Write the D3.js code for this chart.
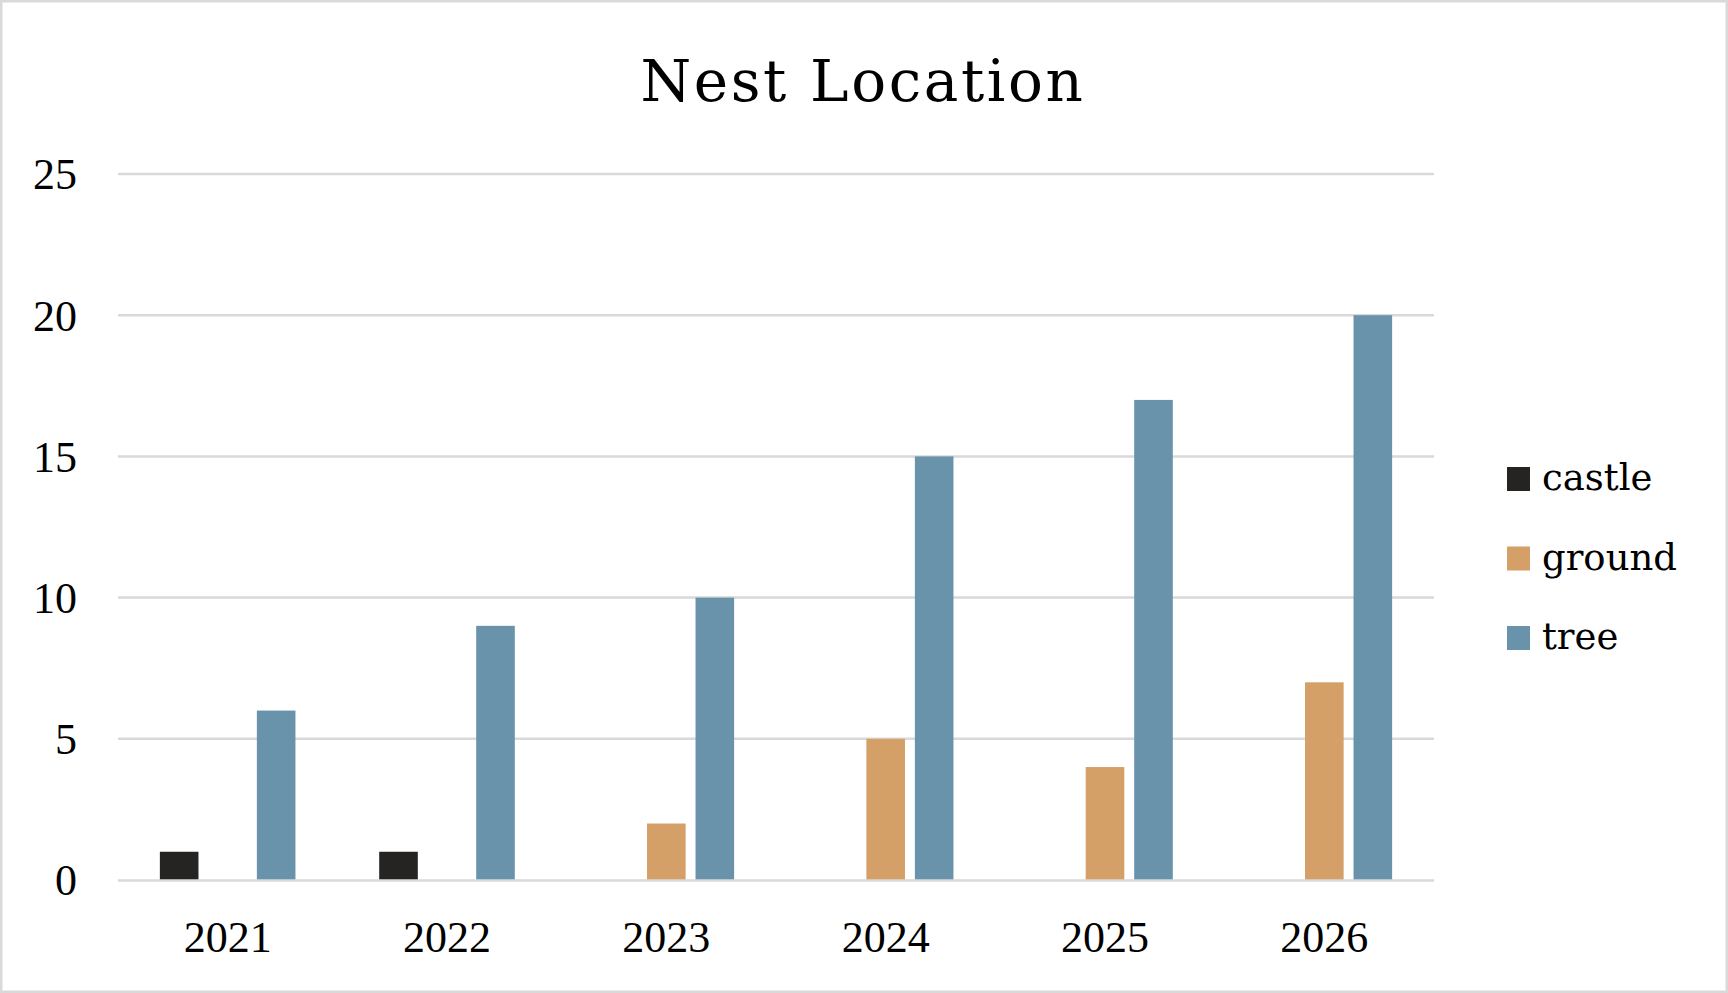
<!DOCTYPE html>
<html>
<head>
<meta charset="utf-8">
<script src="https://cdn.jsdelivr.net/npm/d3@7"></script>
<style>
  body { margin: 0; background: white; }
</style>
</head>
<body>
<div class="middle"></div>
<script>
const years = ['2021', '2022', '2023', '2024', '2025', '2026']
const seriesNames = ['castle', 'ground', 'tree']
const castle = [1, 1, 0, 0, 0, 0]
const ground = [0, 0, 2, 5, 4, 7]
const tree = [6, 9, 10, 15, 17, 20]
const yTicks = [0, 5, 10, 15, 20, 25]
const colors = ['#252423', '#D4A067', '#6993AB']

function displayNestChart() {
  const width = 1728
  const height = 993
  const seriesValues = [castle, ground, tree]

  const rows = years.map(function (yr, i) {
    return seriesNames.map(function (s, j) { return { year: yr, series: s, value: seriesValues[j][i] } })
  })

  const x = d3.scaleBand().domain(years).range([118, 1434])
  const x1 = d3.scaleBand().domain(seriesNames).range([0, 135.6]).paddingInner(0.204)
  const y = d3.scaleLinear().domain([0, 25]).range([880, 174])
  const cs = d3.scaleOrdinal().domain(seriesNames).range(colors)

  const svg = d3.select('.middle')
    .append('svg')
    .attr('width', width)
    .attr('height', height)

  svg.append('rect')
    .attr('x', 1.25)
    .attr('y', 1.25)
    .attr('width', width - 2.5)
    .attr('height', height - 2.5)
    .attr('fill', 'white')
    .attr('stroke', '#D9D9D9')
    .attr('stroke-width', 2.5)

  svg.append('text')
    .attr('x', 863)
    .attr('y', 101)
    .attr('text-anchor', 'middle')
    .style('font-family', '"DejaVu Serif", serif')
    .style('font-size', '58px')
    .style('letter-spacing', '2.6px')
    .style('fill', '#000')
    .text('Nest Location')

  // gridlines (the zero line goes on top of the bars later)
  svg.append('g')
    .selectAll('line')
    .data(yTicks.filter(function (d) { return d > 0 }))
    .enter()
    .append('line')
      .attr('x1', 118)
      .attr('x2', 1434)
      .attr('y1', function (d) { return y(d) })
      .attr('y2', function (d) { return y(d) })
      .style('stroke', '#D9D9D9')
      .style('stroke-width', '2.5px')

  const yAxis = svg.append('g')
    .attr('transform', 'translate(77,0)')
    .call(d3.axisLeft(y).tickValues(yTicks).tickSize(0).tickPadding(0))
  yAxis.select('.domain').remove()
  yAxis.selectAll('text')
    .attr('dy', '0.34em')
    .style('font-family', '"Liberation Serif", serif')
    .style('font-size', '44px')
    .style('fill', '#000')

  svg.append('g')
    .selectAll('g')
    .data(rows)
    .enter()
    .append('g')
      .attr('transform', function (d) { return 'translate(' + (x(d[0].year) + (x.bandwidth() - 135.6) / 2) + ',0)' })
    .selectAll('rect')
    .data(function (d) { return d.filter(function (r) { return r.value > 0 }) })
    .enter()
    .append('rect')
      .attr('x', function (d) { return x1(d.series) })
      .attr('y', function (d) { return y(d.value) })
      .attr('width', x1.bandwidth())
      .attr('height', function (d) { return y(0) - y(d.value) })
      .style('fill', function (d) { return cs(d.series) })

  svg.append('line')
    .attr('x1', 118)
    .attr('x2', 1434)
    .attr('y1', y(0) + 0.5)
    .attr('y2', y(0) + 0.5)
    .style('stroke', '#D9D9D9')
    .style('stroke-width', '2.5px')

  const xAxis = svg.append('g')
    .attr('transform', 'translate(0,952)')
    .call(d3.axisBottom(x).tickSize(0).tickPadding(0))
  xAxis.select('.domain').remove()
  xAxis.selectAll('text')
    .attr('dy', 0)
    .style('font-family', '"Liberation Serif", serif')
    .style('font-size', '44px')
    .style('fill', '#000')

  const legend = svg.append('g')
    .selectAll('g')
    .data(seriesNames)
    .enter()
    .append('g')
      .attr('transform', function (d, i) { return 'translate(1507,' + (467 + i * 79.5) + ')' })

  legend.append('rect')
    .attr('width', 23)
    .attr('height', 24)
    .style('fill', function (d) { return cs(d) })

  legend.append('text')
    .attr('x', 35)
    .attr('y', 23)
    .style('font-family', '"DejaVu Serif", serif')
    .style('font-size', '37px')
    .style('fill', '#000')
    .text(function (d) { return d })
}

displayNestChart()
</script>
</body>
</html>
